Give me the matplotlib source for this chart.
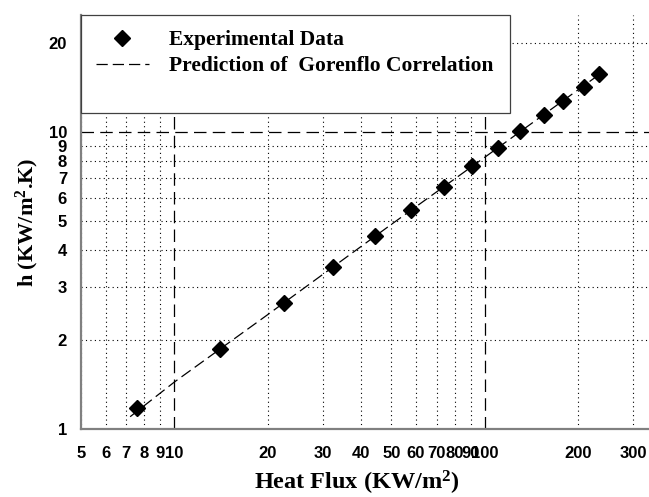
import numpy as np
import matplotlib.pyplot as plt
from matplotlib.lines import Line2D

q_exp = [7.6, 14.0, 22.6, 32.5, 44.4, 58.0, 73.6, 91.2, 110, 130, 155, 179, 208, 234]
h_exp = [1.18, 1.86, 2.66, 3.51, 4.47, 5.46, 6.53, 7.68, 8.84, 10.08, 11.4, 12.7, 14.2, 15.7]

# Predicción de la correlación de Gorenflo
q_pred = [7.2, 10, 20, 50, 100, 240]
h_pred = [1.10, 1.44, 2.43, 4.89, 8.23, 15.95]

# Ticks
x_major = [10, 100]
x_minor = [5, 6, 7, 8, 9, 20, 30, 40, 50, 60, 70, 80, 90, 200, 300]
y_major = [10]
y_minor = [1, 2, 3, 4, 5, 6, 7, 8, 9, 20]

plt.rcParams['mathtext.fontset'] = 'custom'
plt.rcParams['mathtext.rm'] = 'Liberation Serif:bold'
plt.rcParams['mathtext.it'] = 'Liberation Serif:bold'
plt.rcParams['mathtext.bf'] = 'Liberation Serif:bold'

fig = plt.figure(figsize=(6.49, 4.97), dpi=100)
ax = fig.add_axes([81 / 649, 68 / 497, 568 / 649, 414 / 497])

ax.plot(q_pred, h_pred, color='black', lw=0.9, ls=(0, (9, 4)),
        label='Prediction of  Gorenflo Correlation', zorder=3)
ax.plot(q_exp, h_exp, 'D', color='black', ms=8.5, ls='none',
        label='Experimental Data', zorder=4)

ax.set_xscale('log')
ax.set_yscale('log')
ax.set_xlim(5, 338)
ax.set_ylim(1, 24.8)

ax.set_xticks(x_major)
ax.set_xticklabels([str(v) for v in x_major])
ax.set_xticks(x_minor, minor=True)
ax.set_xticklabels([str(v) for v in x_minor], minor=True)
ax.set_yticks(y_major)
ax.set_yticklabels([str(v) for v in y_major])
ax.set_yticks(y_minor, minor=True)
ax.set_yticklabels([str(v) for v in y_minor], minor=True)

for lab in ax.get_xticklabels(which='both') + ax.get_yticklabels(which='both'):
    lab.set_fontfamily('Liberation Sans')
    lab.set_fontweight('bold')
    lab.set_fontsize(12)

ax.tick_params(axis='both', which='both', length=0)
ax.tick_params(axis='x', which='both', pad=12)
ax.tick_params(axis='y', which='both', pad=10)

ax.grid(True, which='major', color='black', lw=0.9, ls=(0, (10, 5)))
ax.grid(True, which='minor', color='black', lw=0.8, ls=(0, (1, 3)))
ax.set_axisbelow(True)

for s in ['top', 'right']:
    ax.spines[s].set_visible(False)
for s in ['left', 'bottom']:
    ax.spines[s].set_color('#808080')
    ax.spines[s].set_linewidth(1.6)

ax.set_xlabel('Heat Flux (KW/m$^2$)', fontfamily='Liberation Serif',
              fontweight='bold', fontsize=17.5)
ax.xaxis.set_label_coords(276 / 568, -40 / 414)
ax.set_ylabel('h (KW/m$^2$.K)', fontfamily='Liberation Serif',
              fontweight='bold', fontsize=16)
ax.yaxis.set_label_coords(-40 / 568, 0.5)

handles = [Line2D([], [], marker='D', color='black', ls='none', ms=8.5),
           Line2D([], [], color='black', lw=0.9, ls=(0, (9, 4))),
           Line2D([], [], ls='none')]
labels = ['Experimental Data', 'Prediction of  Gorenflo Correlation', ' ']
leg = ax.legend(handles, labels, loc='upper left', bbox_to_anchor=(0, 0, 0.755, 1),
                mode='expand', frameon=True, fancybox=False, framealpha=1,
                edgecolor='#404040', borderaxespad=0, handlelength=2.45,
                handleheight=0.45, handletextpad=0.95, labelspacing=0.29,
                borderpad=0.69,
                prop={'family': 'Liberation Serif', 'weight': 'bold', 'size': 15.5})
leg.get_texts()[2].set_fontsize(6)
leg.get_frame().set_linewidth(0.9)
leg.set_zorder(10)

plt.savefig('out.png', dpi=100)
